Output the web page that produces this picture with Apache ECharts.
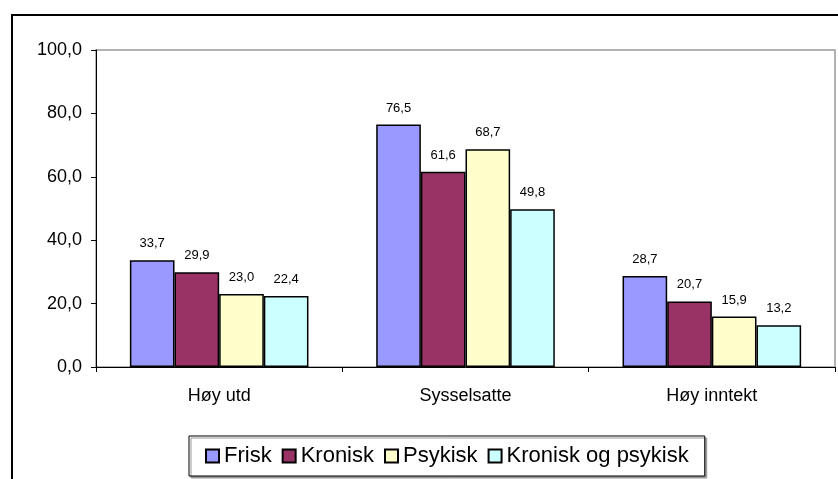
<!DOCTYPE html>
<html>
<head>
<meta charset="utf-8">
<script src="https://cdn.jsdelivr.net/npm/echarts@6/dist/echarts.min.js"></script>
<style>
    html, body { margin: 0; padding: 0; background: #fff; }
    #chart { width: 838px; height: 479px; }
</style>
</head>
<body>
<div id="chart"></div>
<script>
// data
const categories = ["Høy utd", "Sysselsatte", "Høy inntekt"];
const seriesNames = ["Frisk", "Kronisk", "Psykisk", "Kronisk og psykisk"];
const frisk = [33.7, 76.5, 28.7];
const kronisk = [29.9, 61.6, 20.7];
const psykisk = [23.0, 68.7, 15.9];
const kroniskOgPsykisk = [22.4, 49.8, 13.2];
const yTicks = [0, 20, 40, 60, 80, 100];

const seriesData = [frisk, kronisk, psykisk, kroniskOgPsykisk];
const colors = ["#9999FF", "#993366", "#FFFFCC", "#CCFFFF"];
const FONT = "'Liberation Sans', Arial, sans-serif";

// 0.0 -> "0,0"
const comma = v => Number(v).toFixed(1).replace(".", ",");

const chart = echarts.init(document.getElementById("chart"), null, {renderer: "canvas"});

const option = {
    backgroundColor: "#ffffff",
    animation: false,
    textStyle: { fontFamily: FONT },
    grid: {
        left: 96,
        right: 3,
        top: 50,
        bottom: 112,
        show: true,
        borderColor: "#999999",
        borderWidth: 1.5
    },
    legend: {
        data: seriesNames,
        left: 189,
        top: 436,
        padding: [9, 16],
        itemWidth: 13,
        itemHeight: 13,
        itemGap: 10,
        icon: "rect",
        borderColor: "#000",
        borderWidth: 1,
        backgroundColor: "#fff",
        shadowColor: "#999",
        shadowOffsetX: 2,
        shadowOffsetY: 2,
        shadowBlur: 0,
        textStyle: {
            fontFamily: FONT,
            fontSize: 22,
            color: "#000"
        }
    },
    xAxis: {
        type: "category",
        data: categories,
        axisLine: { lineStyle: { color: "#000", width: 1 } },
        axisTick: { show: true, length: 5, lineStyle: { color: "#000" } },
        axisLabel: { fontSize: 18, color: "#000", margin: 20, fontFamily: FONT }
    },
    yAxis: {
        type: "value",
        min: yTicks[0],
        max: yTicks[yTicks.length - 1],
        interval: 20,
        axisLine: { show: true, lineStyle: { color: "#000", width: 1 } },
        axisTick: { show: true, length: 5, lineStyle: { color: "#000" } },
        splitLine: { show: false },
        axisLabel: {
            fontSize: 18,
            color: "#000",
            margin: 14,
            fontFamily: FONT,
            formatter: v => comma(v)
        }
    },
    series: seriesNames.map((name, i) => ({
        name: name,
        type: "bar",
        data: seriesData[i],
        barGap: "0%",
        barCategoryGap: "27.5%",
        itemStyle: {
            color: colors[i],
            borderColor: "#000",
            borderWidth: 1.5
        },
        label: {
            show: true,
            position: "top",
            distance: 10,
            fontSize: 13,
            color: "#000",
            fontFamily: FONT,
            formatter: p => comma(p.value)
        }
    })),
    graphic: [
        {
            // outer frame, right and bottom edges fall off the picture
            type: "rect",
            shape: { x: 12, y: 15, width: 900, height: 600 },
            style: { fill: null, stroke: "#000", lineWidth: 2 },
            silent: true,
            z: 100
        }
    ]
};

chart.setOption(option);
</script>
</body>
</html>
